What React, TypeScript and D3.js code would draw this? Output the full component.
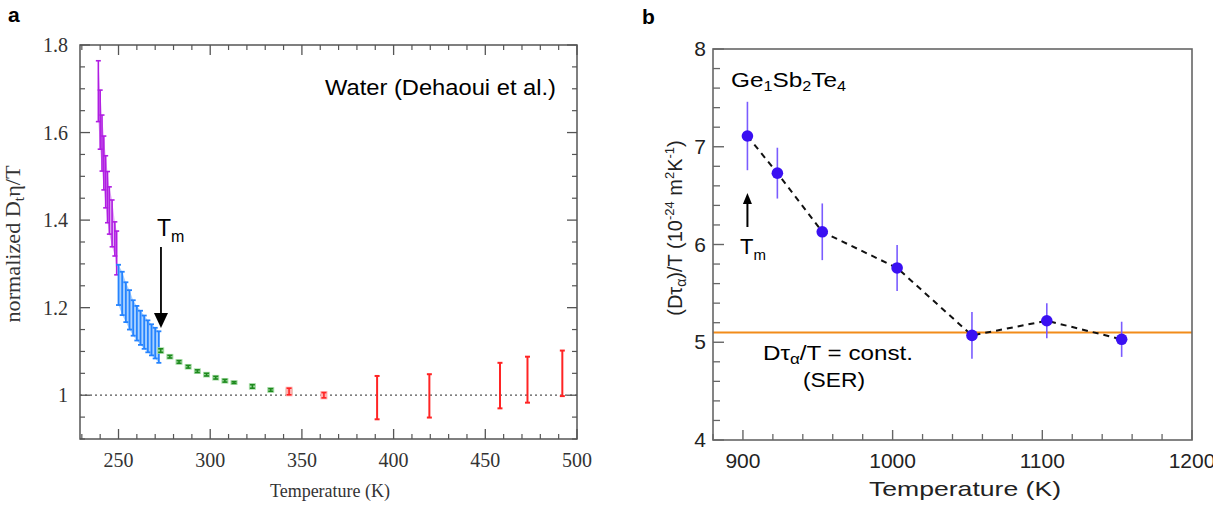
import React from 'react';
import * as d3 from 'd3';

const W = 1231, H = 506;

// ---------- Panel a: water ----------
const magentaT = [239, 240, 241, 242, 243, 244, 245, 246.5, 248, 249];
const magentaHi = [1.764, 1.697, 1.640, 1.592, 1.547, 1.511, 1.476, 1.446, 1.396, 1.375];
const magentaLo = [1.625, 1.562, 1.512, 1.469, 1.428, 1.394, 1.368, 1.339, 1.318, 1.275];

const blueT = [250, 252, 254, 256, 258, 260, 262, 264, 266, 268, 270, 272];
const blueHi = [1.298, 1.282, 1.258, 1.240, 1.217, 1.204, 1.193, 1.182, 1.171, 1.162, 1.154, 1.146];
const blueLo = [1.206, 1.183, 1.167, 1.150, 1.136, 1.125, 1.115, 1.106, 1.098, 1.091, 1.084, 1.074];

const greenT = [273, 278, 283, 288, 293, 298, 303, 308, 313, 323, 333, 343];
const greenV = [1.102, 1.088, 1.076, 1.065, 1.055, 1.047, 1.040, 1.033, 1.029, 1.020, 1.012, 1.008];
const greenErr = [0.004, 0.003, 0.003, 0.003, 0.003, 0.003, 0.003, 0.003, 0.002, 0.004, 0.003, 0.004];

const redT = [343, 362, 391, 419.5, 458, 473, 492];
const redHi = [1.016, 1.006, 1.044, 1.048, 1.074, 1.088, 1.102];
const redLo = [1.001, 0.994, 0.945, 0.949, 0.970, 0.983, 0.998];

const aXMajor = [250, 300, 350, 400, 450, 500];
const aYMajor = [1.0, 1.2, 1.4, 1.6, 1.8];
const aYLabels = ['1', '1.2', '1.4', '1.6', '1.8'];
const aTm = 273.15;

// ---------- Panel b: Ge1Sb2Te4 ----------
const gstT = [903, 923, 953, 1003, 1053, 1103, 1153];
const gstV = [7.11, 6.73, 6.13, 5.76, 5.07, 5.22, 5.03];
const gstErr = [0.35, 0.26, 0.29, 0.235, 0.24, 0.18, 0.18];
const serLevel = 5.1;
const bXMajor = [900, 1000, 1100, 1200];
const bYMajor = [4, 5, 6, 7, 8];
const bTm = 903;

export default function App() {
  // scales
  const ax = d3.scaleLinear().domain([229, 500]).range([80, 577]);
  const ay = d3.scaleLinear().domain([0.9, 1.8]).range([439, 45]);
  const bx = d3.scaleLinear().domain([880, 1200]).range([713, 1192]);
  const by = d3.scaleLinear().domain([4, 8]).range([440, 49]);

  const aXMinor = d3.range(230, 501, 10).filter(v => v % 50 !== 0);
  const aYMinor = d3.range(0.9, 1.801, 0.05).filter(v => Math.abs(Math.round(v * 5) - v * 5) > 0.01);
  const bXMinor = d3.range(880, 1201, 20).filter(v => v % 100 !== 0);
  const bYMinor = d3.range(4, 8.001, 0.2).filter(v => Math.abs(Math.round(v) - v) > 0.01);

  const [ax0, ax1] = ax.range();
  const [ay0, ay1] = ay.range(); // bottom, top
  const [bx0, bx1] = bx.range();
  const [by0, by1] = by.range();

  const magIdx = magentaT.map((_, i) => i);
  const blueIdx = blueT.map((_, i) => i);

  const magArea = d3.area<number>().x(i => ax(magentaT[i])).y0(i => ay(magentaLo[i])).y1(i => ay(magentaHi[i]))(magIdx) || '';
  const blueArea = d3.area<number>().x(i => ax(blueT[i])).y0(i => ay(blueLo[i])).y1(i => ay(blueHi[i]))(blueIdx) || '';

  const gstLine = d3.line<number>().x(i => bx(gstT[i])).y(i => by(gstV[i]))(gstT.map((_, i) => i)) || '';

  const serif = '"Liberation Serif", "Times New Roman", serif';
  const sans = '"Liberation Sans", Arial, Helvetica, sans-serif';

  const aFrame = '#555';
  const bFrame = '#666';

  return (
    <svg width={W} height={H} style={{ position: 'absolute', left: 0, top: 0, background: '#fff' }}>
      <defs>
        <clipPath id="imgclip"><rect x={0} y={0} width={1213} height={H} /></clipPath>
      </defs>
      {/* ================= Panel a ================= */}
      <text x={8} y={22} fontFamily={sans} fontWeight="bold" fontSize={21}>a</text>

      {/* dotted reference line at 1 */}
      <line x1={ax0} x2={ax1} y1={ay(1)} y2={ay(1)} stroke="#555" strokeWidth={1.3} strokeDasharray="2,3" />

      {/* magenta data */}
      <path d={magArea} fill="#dfa8f3" opacity={0.9} />
      {magIdx.map(i => (
        <g key={'m' + i} stroke="#b01de2" strokeWidth={1.6}>
          <line x1={ax(magentaT[i])} x2={ax(magentaT[i])} y1={ay(magentaHi[i])} y2={ay(magentaLo[i])} />
          <line x1={ax(magentaT[i]) - 2.5} x2={ax(magentaT[i]) + 2.5} y1={ay(magentaHi[i])} y2={ay(magentaHi[i])} />
          <line x1={ax(magentaT[i]) - 2.5} x2={ax(magentaT[i]) + 2.5} y1={ay(magentaLo[i])} y2={ay(magentaLo[i])} />
        </g>
      ))}

      {/* blue data */}
      <path d={blueArea} fill="#a9d1ff" />
      {blueIdx.map(i => (
        <g key={'b' + i} stroke="#2483ff" strokeWidth={1.8}>
          <line x1={ax(blueT[i])} x2={ax(blueT[i])} y1={ay(blueHi[i])} y2={ay(blueLo[i])} />
          <line x1={ax(blueT[i]) - 2.5} x2={ax(blueT[i]) + 2.5} y1={ay(blueHi[i])} y2={ay(blueHi[i])} />
          <line x1={ax(blueT[i]) - 2.5} x2={ax(blueT[i]) + 2.5} y1={ay(blueLo[i])} y2={ay(blueLo[i])} />
        </g>
      ))}

      {/* green data */}
      {greenT.map((t, i) => {
        const x = ax(t);
        const y1 = ay(greenV[i] + greenErr[i]), y2 = ay(greenV[i] - greenErr[i]);
        return (
          <g key={'g' + i}>
            <rect x={x - 3.5} y={y1 - 1.5} width={7} height={y2 - y1 + 3} fill="#a6dba6" />
            <g stroke="#1e8a1e" strokeWidth={1.6}>
              <line x1={x} x2={x} y1={y1} y2={y2} />
              <line x1={x - 2.5} x2={x + 2.5} y1={y1} y2={y1} />
              <line x1={x - 2.5} x2={x + 2.5} y1={y2} y2={y2} />
            </g>
          </g>
        );
      })}

      {/* red data */}
      {redT.map((t, i) => {
        const x = ax(t);
        const y1 = ay(redHi[i]), y2 = ay(redLo[i]);
        const small = redHi[i] - redLo[i] < 0.03;
        return (
          <g key={'r' + i}>
            {small && <rect x={x - 3.5} y={y1 - 1.5} width={7} height={y2 - y1 + 3} fill="#ffb0b0" />}
            <g stroke="#ff2424" strokeWidth={small ? 1.6 : 2}>
              <line x1={x} x2={x} y1={y1} y2={y2} />
              <line x1={x - 2.5} x2={x + 2.5} y1={y1} y2={y1} />
              <line x1={x - 2.5} x2={x + 2.5} y1={y2} y2={y2} />
            </g>
          </g>
        );
      })}

      {/* Tm arrow a */}
      <line x1={ax(aTm)} x2={ax(aTm)} y1={247} y2={316} stroke="#000" strokeWidth={1.8} />
      <path d={`M${ax(aTm) - 7},${313} L${ax(aTm) + 7},${313} L${ax(aTm)},${328} Z`} fill="#000" />
      <text x={157} y={236} fontFamily={sans} fontSize={23}>T<tspan fontSize={16} dy={6}>m</tspan></text>

      <text x={325} y={95} fontFamily={sans} fontSize={22} textLength={231} lengthAdjust="spacingAndGlyphs">Water (Dehaoui et al.)</text>

      {/* frame a */}
      <rect x={ax0} y={ay1} width={ax1 - ax0} height={ay0 - ay1} fill="none" stroke={aFrame} strokeWidth={1.5} />
      {aXMajor.map(v => (
        <g key={'axM' + v} stroke={aFrame} strokeWidth={1.3}>
          <line x1={ax(v)} x2={ax(v)} y1={ay0} y2={ay0 - 10} />
          <line x1={ax(v)} x2={ax(v)} y1={ay1} y2={ay1 + 10} />
        </g>
      ))}
      {aXMinor.map(v => (
        <g key={'axm' + v} stroke={aFrame} strokeWidth={1.2}>
          <line x1={ax(v)} x2={ax(v)} y1={ay0} y2={ay0 - 5} />
          <line x1={ax(v)} x2={ax(v)} y1={ay1} y2={ay1 + 5} />
        </g>
      ))}
      {aYMajor.map(v => (
        <g key={'ayM' + v} stroke={aFrame} strokeWidth={1.3}>
          <line x1={ax0} x2={ax0 + 10} y1={ay(v)} y2={ay(v)} />
          <line x1={ax1} x2={ax1 - 10} y1={ay(v)} y2={ay(v)} />
        </g>
      ))}
      {aYMinor.map(v => (
        <g key={'aym' + v.toFixed(2)} stroke={aFrame} strokeWidth={1.2}>
          <line x1={ax0} x2={ax0 + 5} y1={ay(v)} y2={ay(v)} />
          <line x1={ax1} x2={ax1 - 5} y1={ay(v)} y2={ay(v)} />
        </g>
      ))}
      {aXMajor.map(v => (
        <text key={'axl' + v} x={ax(v)} y={467} fontFamily={serif} fontSize={20} textAnchor="middle" fill="#333">{v}</text>
      ))}
      {aYMajor.map((v, i) => (
        <text key={'ayl' + v} x={68} y={ay(v) + 7} fontFamily={serif} fontSize={20} textAnchor="end" fill="#333">{aYLabels[i]}</text>
      ))}
      <text x={330} y={497} fontFamily={serif} fontSize={18} textAnchor="middle" fill="#333">Temperature (K)</text>
      <text transform={`translate(20,244) rotate(-90)`} fontFamily={serif} fontSize={20} textAnchor="middle" fill="#333" textLength={157} lengthAdjust="spacingAndGlyphs">
        normalized D<tspan fontSize={14} dy={4}>t</tspan><tspan dy={-4}>η/T</tspan>
      </text>

      {/* ================= Panel b ================= */}
      <text x={642} y={24} fontFamily={sans} fontWeight="bold" fontSize={21}>b</text>

      {/* SER line */}
      <line x1={bx0} x2={bx1} y1={by(serLevel)} y2={by(serLevel)} stroke="#f28c1a" strokeWidth={2.2} />

      {/* dashed connection */}
      <path d={gstLine} fill="none" stroke="#111" strokeWidth={2} strokeDasharray="6,5" />

      {/* error bars and points */}
      {gstT.map((t, i) => (
        <line key={'be' + i} x1={bx(t)} x2={bx(t)} y1={by(gstV[i] + gstErr[i])} y2={by(gstV[i] - gstErr[i])} stroke="#7a5cff" strokeWidth={1.6} />
      ))}
      {gstT.map((t, i) => (
        <circle key={'bp' + i} cx={bx(t)} cy={by(gstV[i])} r={5.8} fill="#3a10f2" />
      ))}

      {/* Tm arrow b */}
      <line x1={bx(bTm)} x2={bx(bTm)} y1={227} y2={201} stroke="#000" strokeWidth={2} />
      <path d={`M${bx(bTm) - 4.5},${204} L${bx(bTm) + 4.5},${204} L${bx(bTm)},${193} Z`} fill="#000" />
      <text x={740} y={254} fontFamily={sans} fontSize={22}>T<tspan fontSize={15} dy={6}>m</tspan></text>

      <text x={731} y={87} fontFamily={sans} fontSize={21} textLength={115} lengthAdjust="spacingAndGlyphs">
        Ge<tspan fontSize={14} dy={4}>1</tspan><tspan dy={-4}>Sb</tspan><tspan fontSize={14} dy={4}>2</tspan><tspan dy={-4}>Te</tspan><tspan fontSize={14} dy={4}>4</tspan>
      </text>

      <text x={763} y={360} fontFamily={sans} fontSize={20} textLength={150} lengthAdjust="spacingAndGlyphs">
        Dτ<tspan fontSize={14} dy={4}>α</tspan><tspan dy={-4}>/T = const.</tspan>
      </text>
      <text x={803} y={387} fontFamily={sans} fontSize={20} textLength={62} lengthAdjust="spacingAndGlyphs">(SER)</text>

      {/* frame b */}
      <rect x={bx0} y={by1} width={bx1 - bx0} height={by0 - by1} fill="none" stroke={bFrame} strokeWidth={1.6} />
      {bXMajor.map(v => (
        <line key={'bxM' + v} x1={bx(v)} x2={bx(v)} y1={by0} y2={by0 - 10} stroke={bFrame} strokeWidth={1.4} />
      ))}
      {bXMinor.map(v => (
        <line key={'bxm' + v} x1={bx(v)} x2={bx(v)} y1={by0} y2={by0 - 6} stroke={bFrame} strokeWidth={1.3} />
      ))}
      {bYMajor.map(v => (
        <line key={'byM' + v} x1={bx0} x2={bx0 + 11} y1={by(v)} y2={by(v)} stroke={bFrame} strokeWidth={1.4} />
      ))}
      {bYMinor.map(v => (
        <line key={'bym' + v.toFixed(1)} x1={bx0} x2={bx0 + 7} y1={by(v)} y2={by(v)} stroke={bFrame} strokeWidth={1.3} />
      ))}
      <g clipPath="url(#imgclip)">
        {bXMajor.map(v => (
          <text key={'bxl' + v} x={bx(v)} y={468} fontFamily={sans} fontSize={21} textAnchor="middle" fill="#222">{v}</text>
        ))}
      </g>
      {bYMajor.map(v => (
        <text key={'byl' + v} x={706} y={by(v) + 7} fontFamily={sans} fontSize={21} textAnchor="end" fill="#222">{v}</text>
      ))}
      <text x={965} y={496} fontFamily={sans} fontSize={21} textAnchor="middle" fill="#222" textLength={192} lengthAdjust="spacingAndGlyphs">Temperature (K)</text>
      <text transform={`translate(682,228) rotate(-90)`} fontFamily={sans} fontSize={20} textAnchor="middle" fill="#222">
        (Dτ<tspan fontSize={14} dy={4}>α</tspan><tspan dy={-4}>)/T (10</tspan><tspan fontSize={13} dy={-8}>-24</tspan><tspan dy={8}> m</tspan><tspan fontSize={13} dy={-8}>2</tspan><tspan dy={8}>K</tspan><tspan fontSize={13} dy={-8}>-1</tspan><tspan dy={8}>)</tspan>
      </text>
    </svg>
  );
}
